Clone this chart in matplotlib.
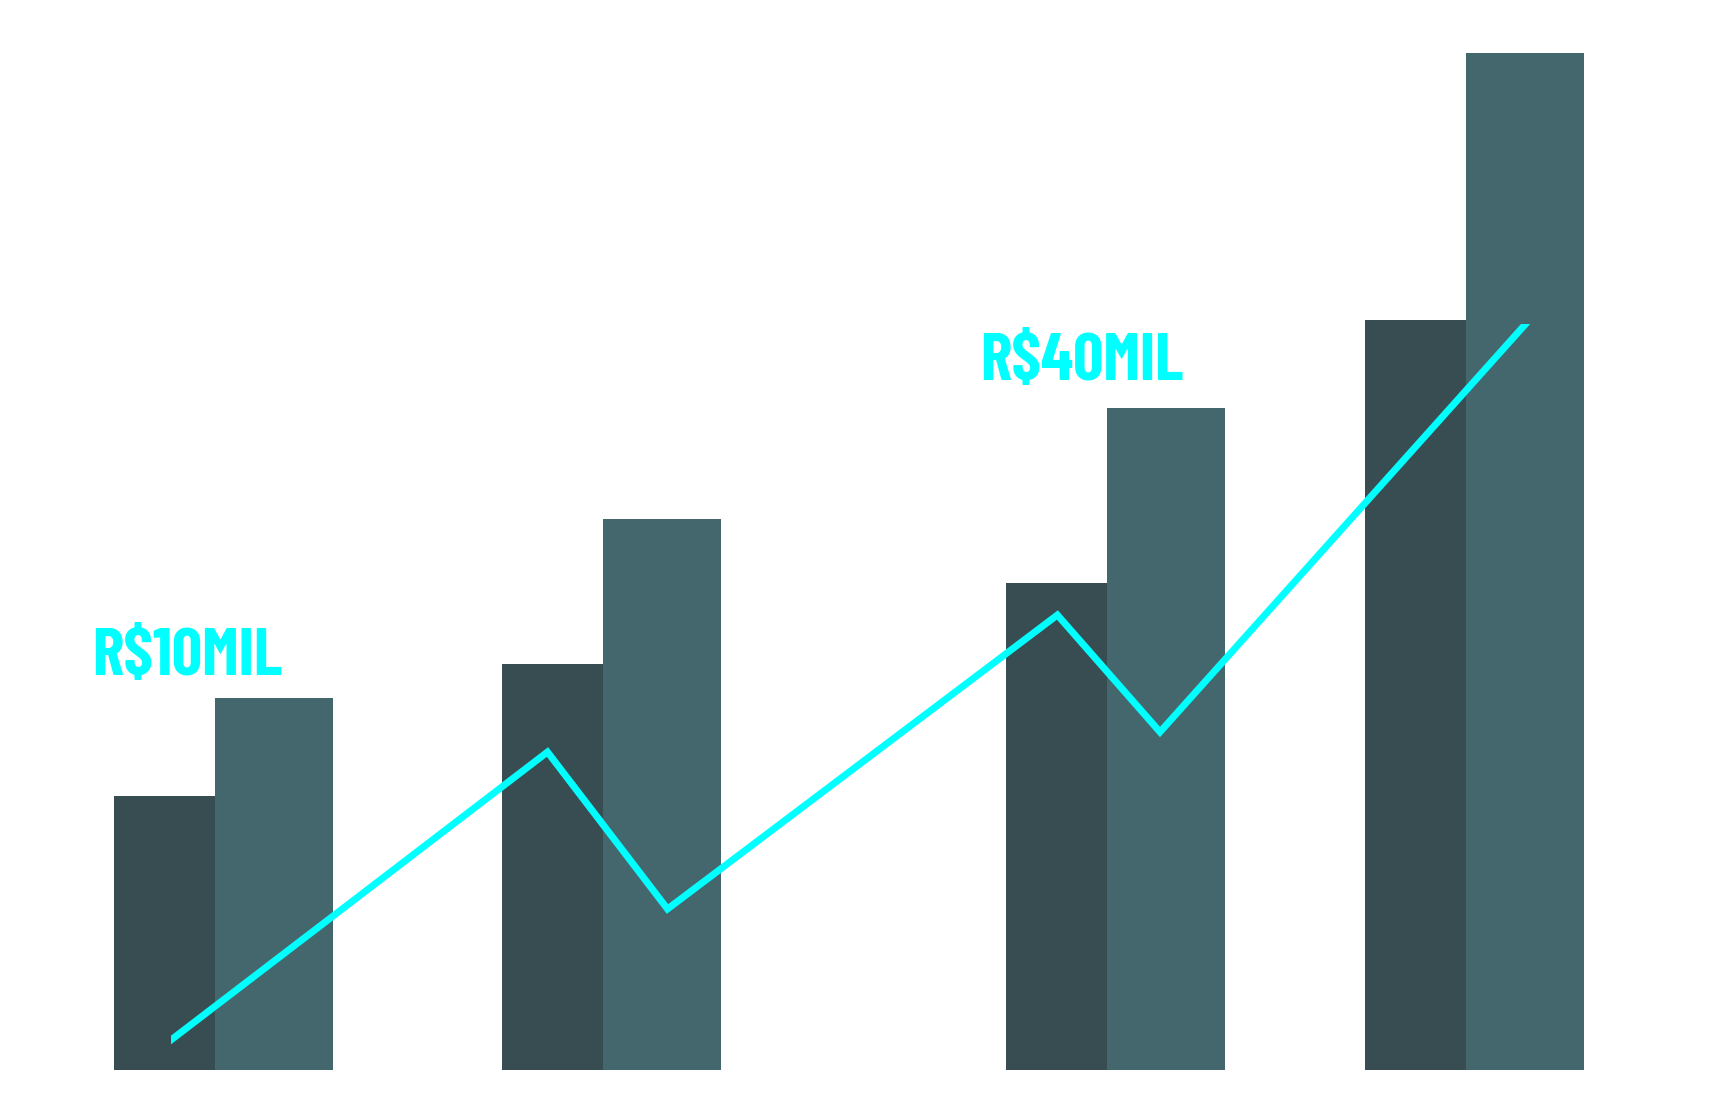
import matplotlib
matplotlib.use("Agg")
import matplotlib.pyplot as plt
from matplotlib.patches import Rectangle

# ---- data (x in pixel-like units, values in arbitrary units) ----
group_split_x = [215, 603, 1107, 1466]          # boundary between the two bars of each group
dark_values = [27.4, 40.6, 48.7, 75.0]
light_values = [37.2, 55.1, 66.2, 101.7]

line_x = [171, 547.5, 667.5, 1057.4, 1160, 1525.6]
line_values = [3.0, 31.8, 16.1, 45.5, 33.8, 74.6]

labels = ["R$10MIL", "R$40MIL"]
label_x = [92, 980]
label_values = [39.5, 69.0]

# ---- styles ----
DARK = "#374D51"
LIGHT = "#43676C"
CYAN = "#00FFFF"
DARK_W = 101
LIGHT_W = 118

W, H, DPI = 1726, 1103, 100
fig = plt.figure(figsize=(W / DPI, H / DPI), dpi=DPI)
fig.patch.set_facecolor("white")
bottom_px = 1070
ax = fig.add_axes([0, (H - bottom_px) / H, 1, bottom_px / H])
ax.set_xlim(0, W)
ax.set_ylim(0, bottom_px / 10)
ax.axis("off")

ax.bar(group_split_x, dark_values, width=-DARK_W, align="edge", color=DARK, linewidth=0, zorder=2)
ax.bar(group_split_x, light_values, width=LIGHT_W, align="edge", color=LIGHT, linewidth=0, zorder=2)

ln, = ax.plot(line_x, line_values, color=CYAN, linewidth=5.0, solid_capstyle="projecting",
              solid_joinstyle="miter", zorder=3)
# line ends are cut flat: vertically at the start, horizontally at the end
clip = Rectangle((line_x[0], -10), W, line_values[-1] + 10, transform=ax.transData,
                 facecolor="none", edgecolor="none")
ax.add_patch(clip)
ln.set_clip_path(clip)

for t, x, y in zip(labels, label_x, label_values):
    ax.text(x, y, t, color=CYAN, fontsize=48, fontweight="bold",
            family=["Barlow Condensed", "DejaVu Sans"],
            ha="left", va="baseline", zorder=4)

fig.savefig("out.png", dpi=DPI, facecolor="white")
